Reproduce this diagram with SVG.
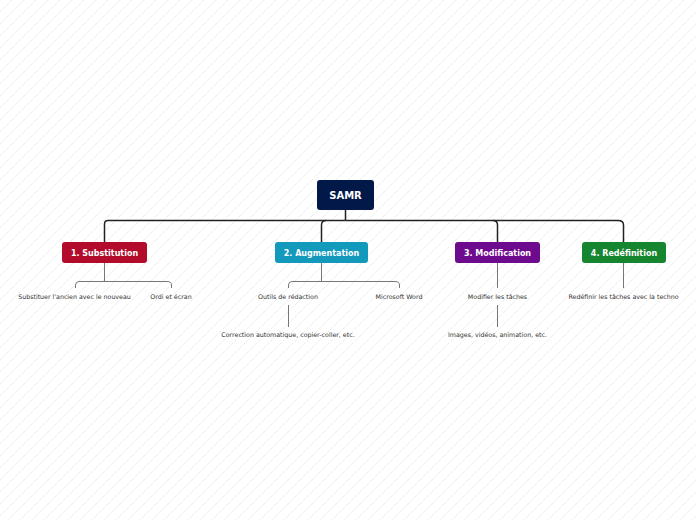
<svg xmlns="http://www.w3.org/2000/svg" width="696" height="520" viewBox="0 0 696 520">
<defs>
<pattern id="hatch" width="12" height="12" patternUnits="userSpaceOnUse">
<path d="M-3,3 L3,-3 M0,12 L12,0 M9,15 L15,9" stroke="#dcdcdc" stroke-width="0.8" stroke-dasharray="1 1"/>
</pattern>
</defs>
<style>
.main{fill:none;stroke:#222;stroke-width:1.5}
.sub{fill:none;stroke:#777;stroke-width:1}
.lbl{font-family:"DejaVu Sans",Verdana,sans-serif;font-weight:bold;font-size:8px;fill:#fff;text-anchor:middle}
.root{font-family:"DejaVu Sans",Verdana,sans-serif;font-weight:bold;font-size:10px;fill:#fff;text-anchor:middle}
.t{font-family:"DejaVu Sans",Verdana,sans-serif;font-size:6.3px;fill:#333;text-anchor:middle}
</style>
<rect width="696" height="520" fill="#fff"/>
<rect width="696" height="520" fill="url(#hatch)"/>
<g id="connectors">
<path class="main" d="M345.5,210 V220.5"/>
<path class="main" d="M345.5,220.5 H108 Q104.5,220.5 104.5,224 V242"/>
<path class="main" d="M345.5,220.5 H618 Q623.5,220.5 623.5,225 V242"/>
<path class="main" d="M321.5,242 V225 Q321.5,220.5 326,220.5"/>
<path class="main" d="M497.5,242 V225 Q497.5,220.5 493,220.5"/>
<path class="sub" d="M104.5,263 V281.5"/>
<path class="sub" d="M75.5,288 V285 Q75.5,281.5 79,281.5 H167 Q171.5,281.5 171.5,285 V288"/>
<path class="sub" d="M321.5,263 V281.5"/>
<path class="sub" d="M288.5,288 V285 Q288.5,281.5 292,281.5 H395 Q399.5,281.5 399.5,285 V288"/>
<path class="sub" d="M288.5,305 V327"/>
<path class="sub" d="M497.5,263 V288"/>
<path class="sub" d="M497.5,305 V327"/>
<path class="sub" d="M623.5,263 V288"/>
</g>
<g id="samr">
<rect x="317" y="180" width="57" height="30" rx="3" fill="#011848"/>
<text class="root" x="345.5" y="198.5">SAMR</text>
</g>
<g id="substitution">
<rect x="62" y="242" width="85" height="21" rx="3" fill="#b20b2c"/>
<text class="lbl" x="104.5" y="255.8">1. Substitution</text>
</g>
<g id="augmentation">
<rect x="275" y="242" width="93" height="21" rx="3" fill="#1399bc"/>
<text class="lbl" x="321.5" y="255.8">2. Augmentation</text>
</g>
<g id="modification">
<rect x="455" y="242" width="85" height="21" rx="3" fill="#6e0a8d"/>
<text class="lbl" x="497.5" y="255.8">3. Modification</text>
</g>
<g id="redefinition">
<rect x="582" y="242" width="84" height="21" rx="3" fill="#158530"/>
<text class="lbl" x="624" y="255.8">4. Redéfinition</text>
</g>
<g id="substituer"><text class="t" x="74.5" y="298.5">Substituer l'ancien avec le nouveau</text></g>
<g id="ordi"><text class="t" x="171" y="298.5">Ordi et écran</text></g>
<g id="outils"><text class="t" x="288" y="298.5">Outils de rédaction</text></g>
<g id="word"><text class="t" x="399" y="298.5">Microsoft Word</text></g>
<g id="correction"><text class="t" x="288" y="336.5">Correction automatique, copier-coller, etc.</text></g>
<g id="modifier"><text class="t" x="497.5" y="298.5">Modifier les tâches</text></g>
<g id="images"><text class="t" x="497.5" y="336.5">Images, vidéos, animation, etc.</text></g>
<g id="redefinir"><text class="t" x="623.5" y="298.5">Redéfinir les tâches avec la techno</text></g>
</svg>
